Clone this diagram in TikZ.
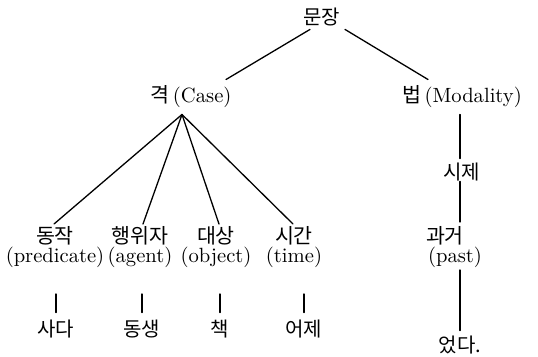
\documentclass[tikz,border=0pt]{standalone}
\usepackage{fontspec}
\usepackage{tikz}
\usetikzlibrary{positioning, calc}
\newfontfamily\kr{Noto Sans CJK KR}
\tikzset{
	word/.style  ={inner sep=0pt, align=center, font=\fontsize{10.3}{9.5}\selectfont\addfontfeatures{LetterSpace=4}},
	kword/.style ={word, font=\kr\fontsize{10}{9.5}\selectfont},
	branch/.style={line width=0.65pt, line cap=round},
}
\begin{document}
\begin{tikzpicture}[x=0.5pt, y=-0.5pt]
	\useasboundingbox (0,0) rectangle (538,357);
	% root and first level
	\node[kword] (root) at (322,17) {문장};
	\node[word] (case) at (191,97) {{\kr 격}\,(Case)};
	\node[word] (modal) at (462,97) {{\kr 법}\,(Modality)};
	\draw[branch] ($(root.south)+(-12,3)$) -- ($(case.north)+(35,-6)$);
	\draw[branch] ($(root.south)+(23,3)$) -- ($(modal.north)+(-34,-6)$);
	% case roles
	\coordinate (apex) at ($(case.south)+(-9,6)$);
	\node[word] (pred) at (55,247) {{\kr 동작}\\(predicate)};
	\node[word] (agent) at (140,247) {{\kr 행위자}\\(agent)};
	\node[word] (obj) at (216,247) {{\kr 대상}\\(object)};
	\node[word] (time) at (294,247) {{\kr 시간}\\(time)};
	\draw[branch] (apex) -- ($(pred.north)+(-1,-2)$);
	\draw[branch] (apex) -- ($(agent.north)+(3,-2)$);
	\draw[branch] (apex) -- ($(obj.north)+(3,-2)$);
	\draw[branch] (apex) -- ($(time.north)+(-1,-2)$);
	% fillers
	\node[kword] (sada) at (56,329) {사다};
	\node[kword] (sib) at (142,329) {동생};
	\node[kword] (book) at (220,329) {책};
	\node[kword] (yday) at (304,329) {어제};
	\foreach \r/\f in {pred/sada, agent/sib, obj/book, time/yday}
		\draw[branch, shorten <=13pt, shorten >=3.5pt] (\r.south -| \f.north) -- (\f.north);
	% modality column
	\coordinate (col) at (460,0);
	\node[kword] (tense) at (462,172) {시제};
	\node[word] (past) at (455,247) {{\kr 과거}\hspace*{10pt}\\(past)};
	\node[kword] (eot) at (460,345) {었다.};
	\draw[branch, shorten <=3pt, shorten >=2pt] (modal.south -| col) -- (tense.north -| col);
	\draw[branch, shorten >=2pt] (tense.south -| col) -- (past.north -| col);
	\draw[branch, shorten <=1pt, shorten >=2.5pt] (past.south -| col) -- (eot.north -| col);
\end{tikzpicture}
\end{document}
